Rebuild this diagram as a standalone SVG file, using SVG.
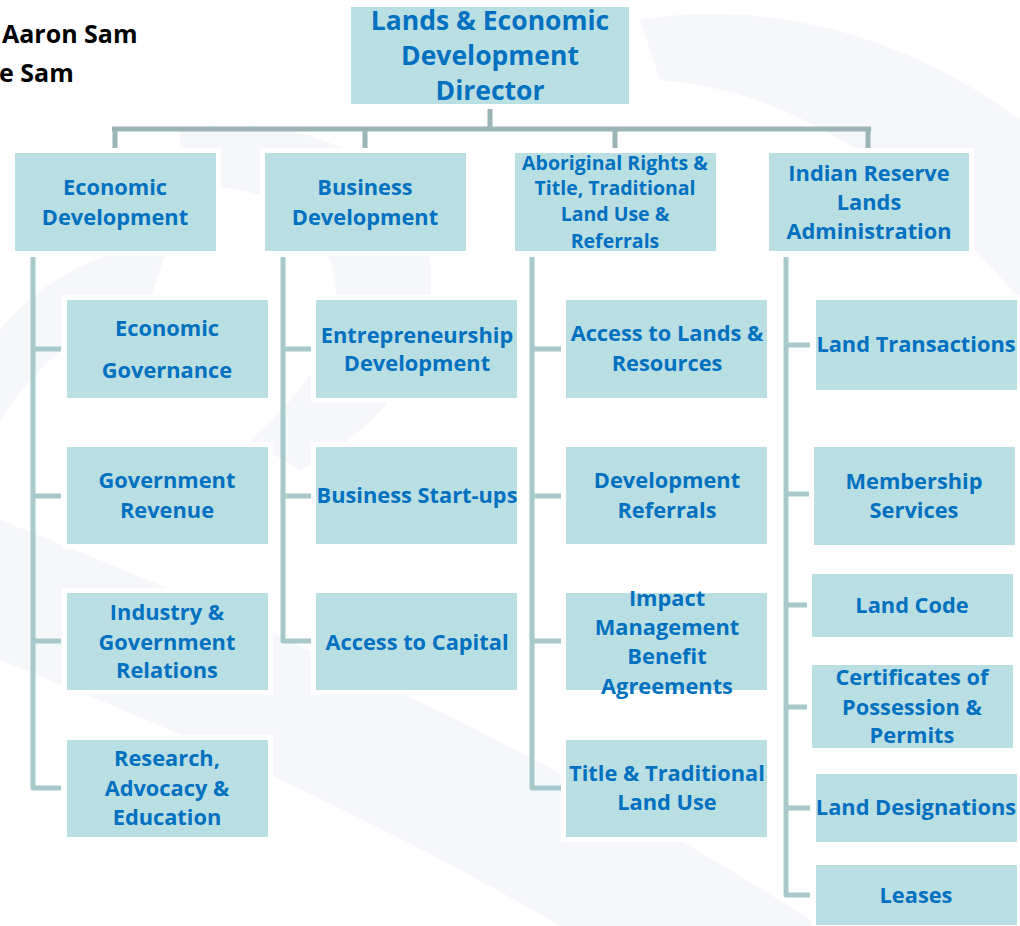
<svg xmlns="http://www.w3.org/2000/svg" width="1020" height="926" viewBox="0 0 1020 926">
<style>
.box{fill:#badfe3;stroke:#ffffff;stroke-width:10;paint-order:stroke}
.t{font-family:"Open Sans","Liberation Sans",sans-serif;font-weight:bold;fill:#0070c0;text-anchor:middle}
.l1{font-size:21.8px}
.l0{font-size:26.5px}
.sm{font-size:19.5px}
.name{font-family:"Open Sans","Liberation Sans",sans-serif;font-weight:bold;font-size:25px;fill:#000}
.wm{fill:#eef0f5;opacity:0.5}
.c{fill:none;stroke:#a8c9cc;stroke-width:5;stroke-linejoin:round}
.top{fill:none;stroke:#9bb4b6;stroke-width:5}
</style>
<rect width="1020" height="926" fill="#ffffff"/>
<g id="watermark">
<path class="wm" d="M0,520 C200,600 500,720 820,926 L560,926 C380,820 180,730 0,660 Z"/>
<path class="wm" d="M180,130 C300,110 420,160 430,260 C440,360 380,430 300,470 L250,440 C320,380 350,320 330,260 C310,200 240,180 180,190 Z"/>
<path class="wm" d="M640,20 C760,0 900,30 1020,120 L1020,300 C920,180 800,90 660,80 Z"/>
<path class="wm" d="M0,330 C40,280 100,250 170,240 L150,300 C90,320 40,360 0,420 Z"/>
</g>
<g id="header">
<text class="name" x="2" y="43">Aaron Sam</text>
<text class="name" x="-1" y="82">e Sam</text>
</g>
<g id="connectors">
<path class="top" d="M490,104 V129 M112,129 H871 M115,129 V150 M365,129 V150 M615,129 V150 M868,129 V150"/>
<path class="c" d="M33,257 V788 H61 M33,349 H61 M33,496 H61 M33,641 H61"/>
<path class="c" d="M283,257 V641 H311 M283,349 H311 M283,496 H311"/>
<path class="c" d="M532,257 V788 H561 M532,349 H561 M532,496 H561 M532,641 H561"/>
<path class="c" d="M786,257 V895 H810 M786,345 H810 M786,494 H810 M786,605 H808 M786,707 H808 M786,808 H810"/>
</g>
<g id="director"><rect class="box" x="351" y="7" width="278" height="97"/>
<text class="t l0" x="490" y="30">Lands &amp; Economic</text>
<text class="t l0" x="490" y="65">Development</text>
<text class="t l0" x="490" y="100">Director</text></g>
<g id="economic-development"><rect class="box" x="15" y="153" width="201" height="98"/>
<text class="t l1" x="115" y="195">Economic</text><text class="t l1" x="115" y="225">Development</text></g>
<g id="business-development"><rect class="box" x="265" y="153" width="201" height="98"/>
<text class="t l1" x="365" y="195">Business</text><text class="t l1" x="365" y="225">Development</text></g>
<g id="aboriginal-rights"><rect class="box" x="515" y="153" width="201" height="98"/>
<text class="t sm" x="615" y="170">Aboriginal Rights &amp;</text>
<text class="t sm" x="615" y="195">Title, Traditional</text>
<text class="t sm" x="615" y="221">Land Use &amp;</text>
<text class="t sm" x="615" y="248">Referrals</text></g>
<g id="indian-reserve"><rect class="box" x="769" y="153" width="200" height="98"/>
<text class="t l1" x="869" y="181">Indian Reserve</text>
<text class="t l1" x="869" y="210">Lands</text>
<text class="t l1" x="869" y="239">Administration</text></g>

<g id="economic-governance"><rect class="box" x="67" y="300" width="201" height="98"/>
<text class="t l1" x="167" y="336">Economic</text><text class="t l1" x="167" y="378">Governance</text></g>
<g id="government-revenue"><rect class="box" x="67" y="447" width="201" height="97"/>
<text class="t l1" x="167" y="488">Government</text><text class="t l1" x="167" y="518">Revenue</text></g>
<g id="industry-government"><rect class="box" x="67" y="593" width="201" height="97"/>
<text class="t l1" x="167" y="620">Industry &amp;</text><text class="t l1" x="167" y="650">Government</text><text class="t l1" x="167" y="678">Relations</text></g>
<g id="research"><rect class="box" x="67" y="740" width="201" height="97"/>
<text class="t l1" x="167" y="766">Research,</text><text class="t l1" x="167" y="796">Advocacy &amp;</text><text class="t l1" x="167" y="825">Education</text></g>

<g id="entrepreneurship"><rect class="box" x="316" y="300" width="201" height="98"/>
<text class="t l1" x="417" y="343">Entrepreneurship</text><text class="t l1" x="417" y="371">Development</text></g>
<g id="business-startups"><rect class="box" x="316" y="447" width="201" height="97"/>
<text class="t l1" x="417" y="503">Business Start-ups</text></g>
<g id="access-capital"><rect class="box" x="316" y="593" width="201" height="97"/>
<text class="t l1" x="417" y="650">Access to Capital</text></g>

<g id="access-lands"><rect class="box" x="566" y="300" width="201" height="98"/>
<text class="t l1" x="667" y="341">Access to Lands &amp;</text><text class="t l1" x="667" y="371">Resources</text></g>
<g id="development-referrals"><rect class="box" x="566" y="447" width="201" height="97"/>
<text class="t l1" x="667" y="488">Development</text><text class="t l1" x="667" y="518">Referrals</text></g>
<g id="impact-management"><rect class="box" x="566" y="593" width="201" height="97"/>
<text class="t l1" x="667" y="606">Impact</text><text class="t l1" x="667" y="635">Management</text><text class="t l1" x="667" y="664">Benefit</text><text class="t l1" x="667" y="694">Agreements</text></g>
<g id="title-traditional"><rect class="box" x="566" y="740" width="201" height="97"/>
<text class="t l1" x="667" y="781">Title &amp; Traditional</text><text class="t l1" x="667" y="810">Land Use</text></g>

<g id="land-transactions"><rect class="box" x="816" y="300" width="201" height="90"/>
<text class="t l1" x="916" y="352">Land Transactions</text></g>
<g id="membership-services"><rect class="box" x="814" y="447" width="201" height="98"/>
<text class="t l1" x="914" y="489">Membership</text><text class="t l1" x="914" y="518">Services</text></g>
<g id="land-code"><rect class="box" x="812" y="574" width="201" height="63"/>
<text class="t l1" x="912" y="613">Land Code</text></g>
<g id="certificates"><rect class="box" x="812" y="665" width="201" height="83"/>
<text class="t l1" x="912" y="685">Certificates of</text><text class="t l1" x="912" y="715">Possession &amp;</text><text class="t l1" x="912" y="743">Permits</text></g>
<g id="land-designations"><rect class="box" x="816" y="774" width="201" height="68"/>
<text class="t l1" x="916" y="815">Land Designations</text></g>
<g id="leases"><rect class="box" x="816" y="865" width="201" height="60"/>
<text class="t l1" x="916" y="903">Leases</text></g>
</svg>
